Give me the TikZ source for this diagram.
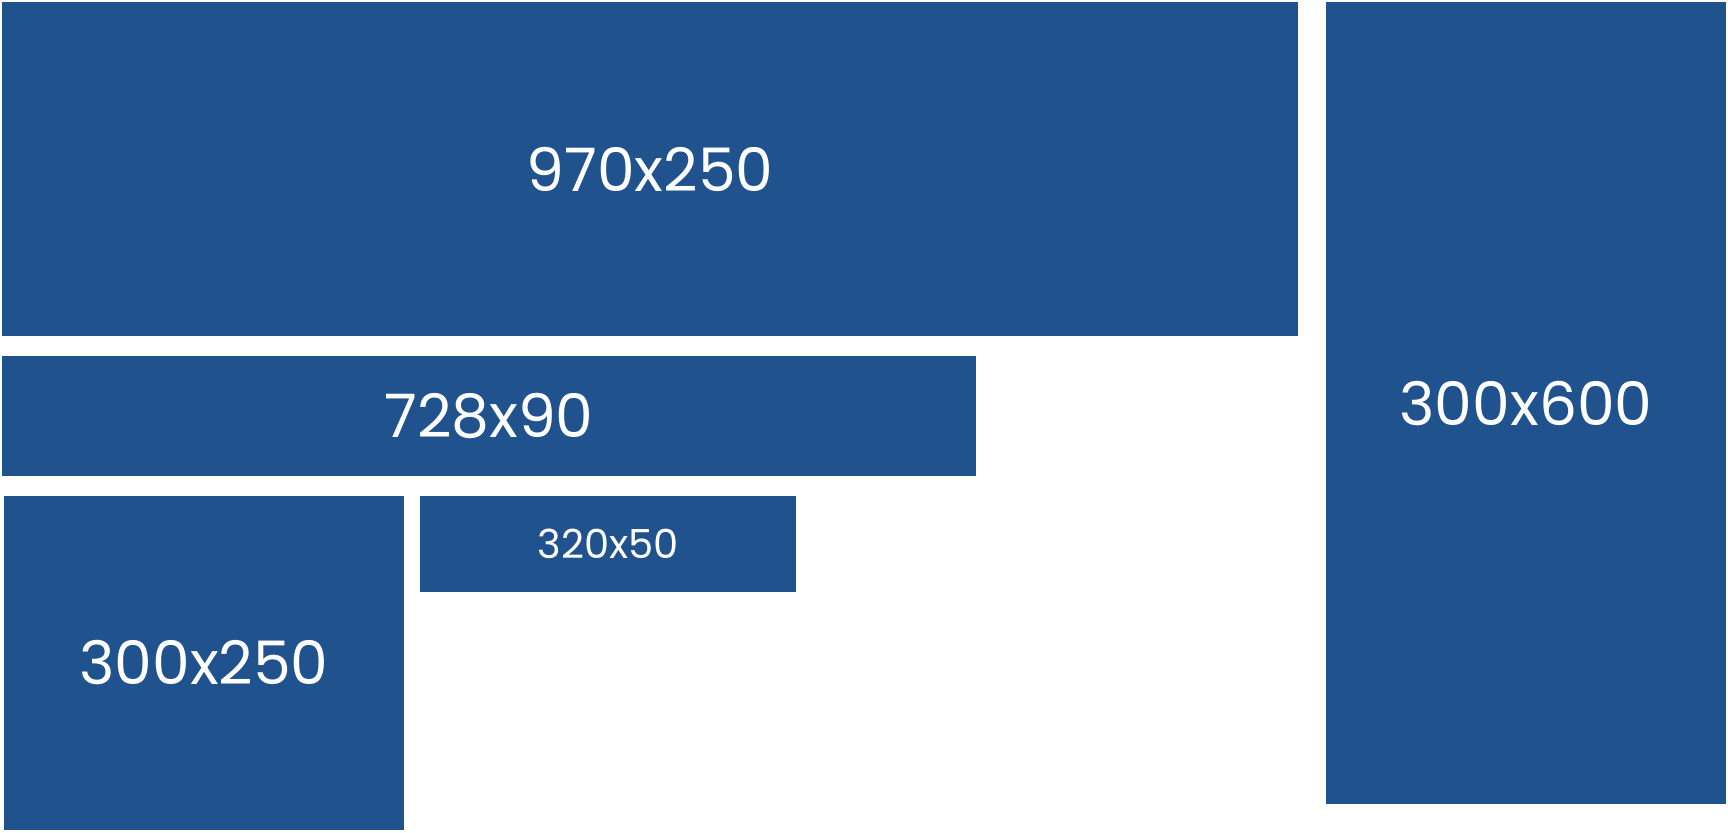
\documentclass[tikz,border=0pt]{standalone}
\usepackage{fontspec}
\setmainfont{Poppins}
\definecolor{adblue}{RGB}{32,82,142}

\begin{document}
\begin{tikzpicture}[x=0.5pt, y=-0.5pt,
    adbox/.style={fill=adblue, text=white, inner sep=0pt, font=\fontsize{30}{35}\selectfont},
    smallbox/.style={adbox, font=\fontsize{20}{24}\selectfont}]

    % Rahmen des Bildes
    \useasboundingbox (0,0) rectangle (1728,832);

    % Werbeformate
    \node[adbox, minimum width=648pt, minimum height=167pt] (billboard) at (650,169) {970x250};
    \node[adbox, minimum width=487pt, minimum height=60pt] (leader) at (489,416) {728x90};
    \node[adbox, minimum width=200pt, minimum height=167pt] (rectangle) at (204,663) {300x250};
    \node[smallbox, minimum width=188pt, minimum height=48pt] (mobile) at (608,544) {320x50};
    \node[adbox, minimum width=200pt, minimum height=401pt] (halfpage) at (1526,403) {300x600};
\end{tikzpicture}
\end{document}
